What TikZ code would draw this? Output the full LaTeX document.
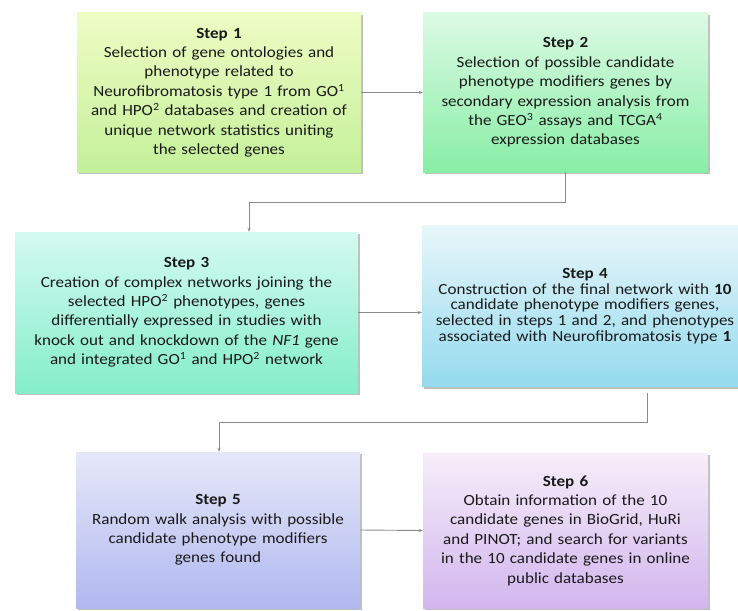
\documentclass[tikz,border=0pt]{standalone}
\usepackage{fontspec}
\setmainfont{Carlito}[FakeStretch=1.1]
\usetikzlibrary{shadows,arrows.meta}
\definecolor{t1}{HTML}{EEFCC4}\definecolor{u1}{HTML}{C4F09A}
\definecolor{t2}{HTML}{DCFAE4}\definecolor{u2}{HTML}{88EEA6}
\definecolor{t3}{HTML}{D4FAF0}\definecolor{u3}{HTML}{84EECA}
\definecolor{t4}{HTML}{E8F6FA}\definecolor{u4}{HTML}{94DAEE}
\definecolor{t5}{HTML}{E6E8F8}\definecolor{u5}{HTML}{B0B8F0}
\definecolor{t6}{HTML}{F6EEFA}\definecolor{u6}{HTML}{D2B6EE}
\definecolor{txt}{HTML}{1A1A1A}
\definecolor{ln}{HTML}{8A8A8A}
\lineskiplimit=-10pt
\tikzset{
  stepbox/.style={draw=none, inner sep=0pt, align=center, text=txt,
    font=\fontsize{15.5}{19.4}\selectfont,
    drop shadow={shadow xshift=2pt, shadow yshift=-2pt, opacity=0.25, fill=black}},
  conn/.style={draw=ln, line width=0.9pt, -{Stealth[length=4pt,width=3pt]}}
}
\begin{document}
\begin{tikzpicture}[x=1pt,y=-1pt]
\useasboundingbox (0,0) rectangle (738,610);
\node[stepbox, top color=t1, bottom color=u1, minimum width=284pt, minimum height=159pt,
  text width=282pt] (b1) at (219,92.5)
  {\textbf{Step 1}\\Selection of gene ontologies and\\phenotype related to\\Neurofibromatosis type 1 from GO\textsuperscript{1}\\and HPO\textsuperscript{2} databases and creation of\\unique network statistics uniting\\the selected genes};
\node[stepbox, top color=t2, bottom color=u2, minimum width=285pt, minimum height=159pt,
  text width=282pt] (b2) at (565.5,92.5)
  {\textbf{Step 2}\\Selection of possible candidate\\phenotype modifiers genes by\\secondary expression analysis from\\the GEO\textsuperscript{3} assays and TCGA\textsuperscript{4}\\expression databases};
\node[stepbox, top color=t3, bottom color=u3, minimum width=343pt, minimum height=161pt,
  text width=340pt] (b3) at (186.5,312.5)
  {\textbf{Step 3}\\Creation of complex networks joining the\\selected HPO\textsuperscript{2} phenotypes, genes\\differentially expressed in studies with\\knock out and knockdown of the \textit{NF1} gene\\and integrated GO\textsuperscript{1} and HPO\textsuperscript{2} network};
\node[stepbox, top color=t4, bottom color=u4, minimum width=326pt, minimum height=161pt,
  text width=322pt, font=\fontsize{15.5}{15.8}\selectfont] (b4) at (585,306)
  {\textbf{Step 4}\\Construction of the final network with \textbf{10}\\candidate phenotype modifiers genes,\\selected in steps 1 and 2, and phenotypes\\associated with Neurofibromatosis type \textbf{1}};
\node[stepbox, top color=t5, bottom color=u5, minimum width=284pt, minimum height=156pt,
  text width=282pt] (b5) at (218,530)
  {\textbf{Step 5}\\Random walk analysis with possible\\candidate phenotype modifiers\\genes found};
\node[stepbox, top color=t6, bottom color=u6, minimum width=285pt, minimum height=155pt,
  text width=282pt] (b6) at (565.5,530.5)
  {\textbf{Step 6}\\Obtain information of the 10\\candidate genes in BioGrid, HuRi\\and PINOT; and search for variants\\in the 10 candidate genes in online\\public databases};
\coordinate (k1) at (249,202);
\coordinate (s4) at (647,393);
\coordinate (k2) at (219,422);
\draw[conn] (b1.east) -- (b2.west);
\draw[conn] (b2.south) |- (k1) -- (k1 |- b3.north);
\draw[conn] (b3.east) -- (b3.east -| b4.west);
\draw[conn] (s4) |- (k2) -- (k2 |- b5.north);
\draw[conn] (b5.east) -- (b6.west);
\end{tikzpicture}
\end{document}
